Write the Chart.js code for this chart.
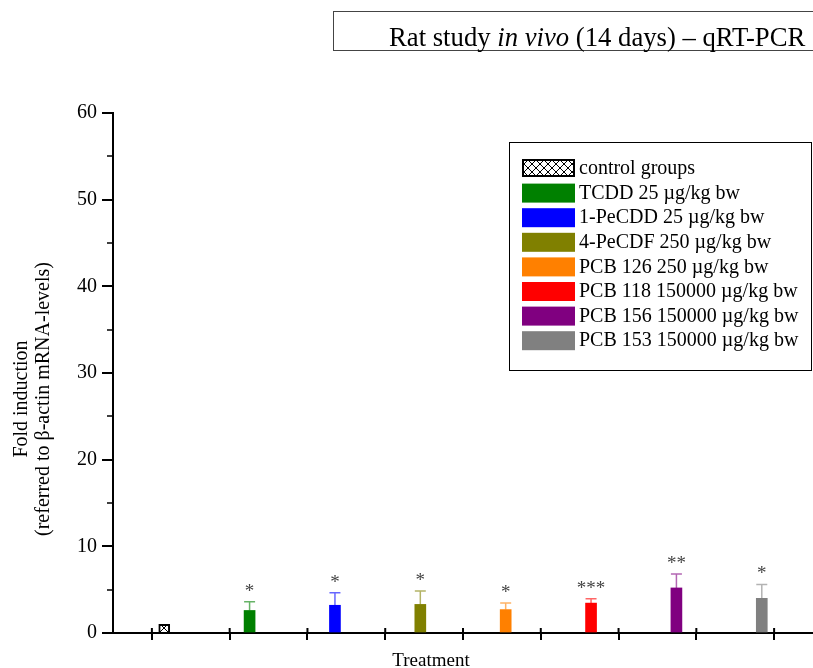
<!DOCTYPE html>
<html>
<head>
<meta charset="utf-8">
<script src="https://cdn.jsdelivr.net/npm/chart.js@4.4.0/dist/chart.umd.min.js"></script>
<style>
  html, body { margin: 0; padding: 0; background: #fff; }
  #wrap { width: 813px; height: 668px; }
</style>
</head>
<body>
<div id="wrap"><canvas id="chartCanva" width="813" height="668"></canvas></div>
<script>
// fold induction (referred to beta-actin mRNA)
const categories = [
  'control groups',
  'TCDD 25 \u00b5g/kg bw',
  '1-PeCDD 25 \u00b5g/kg bw',
  '4-PeCDF 250 \u00b5g/kg bw',
  'PCB 126 250 \u00b5g/kg bw',
  'PCB 118 150000 \u00b5g/kg bw',
  'PCB 156 150000 \u00b5g/kg bw',
  'PCB 153 150000 \u00b5g/kg bw'
];
const foldInduction = [1.0, 2.6, 3.2, 3.3, 2.7, 3.45, 5.2, 4.0];
const errorUp = [0, 1.0, 1.45, 1.55, 0.75, 0.5, 1.6, 1.6];
const significance = ['', '*', '*', '*', '*', '***', '**', '*'];
const barColors = ['#000000', '#008000', '#0000ff', '#808000', '#ff8000', '#ff0000', '#800080', '#808080'];
const treatmentTicks = ['', '', '', '', '', '', '', '', ''];

const serif = "'Liberation Serif', 'Times New Roman', serif";

const canvas = document.getElementById('chartCanva');
const ctx = canvas.getContext('2d');

function makeHatch() {
  const c = document.createElement('canvas');
  c.width = 8; c.height = 8;
  const g = c.getContext('2d');
  g.fillStyle = '#fff';
  g.fillRect(0, 0, 8, 8);
  g.strokeStyle = '#000';
  g.lineWidth = 1;
  g.beginPath();
  g.moveTo(0, 0); g.lineTo(8, 8);
  g.moveTo(8, 0); g.lineTo(0, 8);
  g.stroke();
  return ctx.createPattern(c, 'repeat');
}
const hatch = makeHatch();

function fade(hex, a) {
  const n = parseInt(hex.slice(1), 16);
  return `rgba(${n >> 16}, ${(n >> 8) & 255}, ${n & 255}, ${a})`;
}

// error bars + significance stars on top of each bar
const errorBars = {
  id: 'errorBars',
  afterDatasetsDraw(chart) {
    const c = chart.ctx;
    const y = chart.scales.y;
    const meta = chart.getDatasetMeta(0);
    meta.data.forEach((bar, i) => {
      const top = y.getPixelForValue(foldInduction[i] + errorUp[i]);
      c.save();
      if (errorUp[i] > 0) {
        c.strokeStyle = fade(barColors[i], 0.6);
        c.lineWidth = 1.5;
        c.beginPath();
        c.moveTo(bar.x, bar.y);
        c.lineTo(bar.x, top);
        c.moveTo(bar.x - 5.5, top);
        c.lineTo(bar.x + 5.5, top);
        c.stroke();
      }
      if (significance[i]) {
        c.fillStyle = '#444';
        c.font = '19px ' + serif;
        c.textAlign = 'center';
        c.textBaseline = 'alphabetic';
        c.fillText(significance[i], bar.x, top - 5);
      }
      c.restore();
    });
  }
};

// title box, axis titles, legend box, minor ticks
const figureDecor = {
  id: 'figureDecor',
  afterDraw(chart) {
    const c = chart.ctx;
    const area = chart.chartArea;
    const y = chart.scales.y;
    const x2 = chart.scales.x2;
    c.save();

    // minor y ticks
    c.strokeStyle = '#000';
    c.lineWidth = 1.5;
    for (let v = 5; v < 60; v += 10) {
      const py = Math.round(y.getPixelForValue(v));
      c.beginPath();
      c.moveTo(area.left - 6, py);
      c.lineTo(area.left, py);
      c.stroke();
    }
    // x ticks cross the axis line
    c.lineWidth = 2;
    x2.ticks.forEach((t, i) => {
      const px = x2.getPixelForTick(i);
      c.beginPath();
      c.moveTo(px, area.bottom - 5);
      c.lineTo(px, area.bottom);
      c.stroke();
    });

    // title box
    c.strokeStyle = '#444';
    c.lineWidth = 1;
    c.strokeRect(333.5, 11.5, 520, 39);
    c.fillStyle = '#000';
    c.textBaseline = 'alphabetic';
    c.textAlign = 'left';
    const parts = [['Rat study ', ''], ['in vivo', 'italic '], [' (14 days) \u2013 qRT-PCR', '']];
    let tx = 389;
    parts.forEach(([txt, style]) => {
      c.font = style + '26.7px ' + serif;
      c.fillText(txt, tx, 46);
      tx += c.measureText(txt).width;
    });

    // y axis title
    c.font = '20px ' + serif;
    c.textAlign = 'center';
    c.textBaseline = 'middle';
    c.save();
    c.translate(22, 399);
    c.rotate(-Math.PI / 2);
    c.fillText('Fold induction', 0, 0);
    c.fillText('(referred to \u03b2-actin mRNA-levels)', 0, 22);
    c.restore();

    // x axis title
    c.font = '19px ' + serif;
    c.textBaseline = 'alphabetic';
    c.fillText('Treatment', 431, 666);

    // legend
    c.strokeStyle = '#000';
    c.lineWidth = 1;
    c.strokeRect(509.5, 142.5, 302, 228);
    c.font = '20px ' + serif;
    c.textAlign = 'left';
    c.textBaseline = 'middle';
    categories.forEach((lab, i) => {
      const ry = 159 + i * 24.6;
      if (i === 0) {
        c.fillStyle = hatch;
        c.fillRect(523, ry + 1, 51, 16);
        c.lineWidth = 2;
        c.strokeRect(523, ry + 1, 51, 16);
      } else {
        c.fillStyle = barColors[i];
        c.fillRect(522, ry, 53, 19);
      }
      c.fillStyle = '#000';
      c.fillText(lab, 579, ry + 10);
    });

    c.restore();
  }
};

const chart = new Chart(canvas, {
  type: 'bar',
  data: {
    datasets: [{
      label: 'Fold induction',
      data: categories.map((cat, i) => ({ x: i + 1, y: foldInduction[i] })),
      backgroundColor: barColors.map((col, i) => i === 0 ? hatch : col),
      borderColor: barColors.map((col, i) => i === 0 ? '#000' : col),
      borderWidth: barColors.map((col, i) => i === 0 ? 2 : 0),
      barThickness: 11,
      xAxisID: 'x',
      yAxisID: 'y'
    }]
  },
  options: {
    responsive: false,
    animation: false,
    devicePixelRatio: 1,
    layout: { padding: { top: 113, left: 0, right: 0, bottom: 0 } },
    plugins: {
      legend: { display: false },
      tooltip: { enabled: false },
      title: { display: false }
    },
    scales: {
      x: { type: 'linear', min: 0.4, max: 8.6, offset: false, display: false },
      x2: {
        type: 'category',
        labels: treatmentTicks,
        position: 'bottom',
        offset: true,
        grid: { offset: false, drawOnChartArea: false, tickLength: 7, color: '#000', lineWidth: 2 },
        border: { color: '#000', width: 2 },
        ticks: { display: false },
        afterFit(s) { s.height = 35; }
      },
      y: {
        min: 0,
        max: 60,
        ticks: { stepSize: 10, color: '#000', padding: 5, font: { family: serif, size: 20 } },
        grid: { drawOnChartArea: false, tickLength: 11, color: '#000', lineWidth: 2 },
        border: { color: '#000', width: 2 },
        afterFit(s) { s.width = 113; }
      }
    }
  },
  plugins: [errorBars, figureDecor]
});
</script>
</body>
</html>
